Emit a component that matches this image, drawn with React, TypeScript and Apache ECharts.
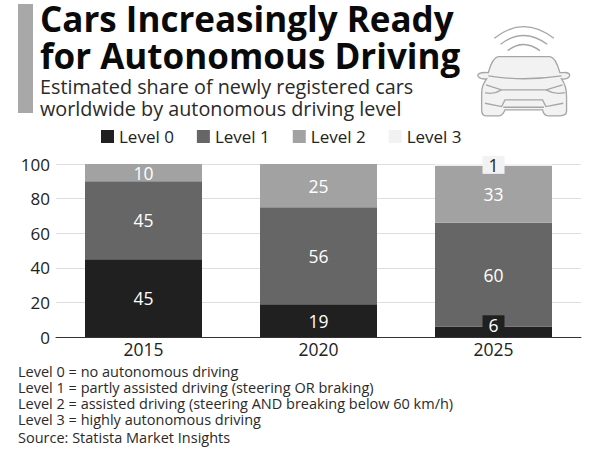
import React, { useEffect, useRef } from "react";
import * as echarts from "echarts";

const years = ["2015", "2020", "2025"];
const level0 = [45, 19, 6];
const level1 = [45, 56, 60];
const level2 = [10, 25, 33];
const level3 = [null, null, 1];
const titleText = "Cars Increasingly Ready\nfor Autonomous Driving";
const subtitleText = "Estimated share of newly registered cars\nworldwide by autonomous driving level";
const notes = [
  "Level 0 = no autonomous driving",
  "Level 1 = partly assisted driving (steering OR braking)",
  "Level 2 = assisted driving (steering AND breaking below 60 km/h)",
  "Level 3 = highly autonomous driving",
];
const sourceText = "Source: Statista Market Insights";
const FONT = "'Open Sans', sans-serif";

echarts.graphic.registerShape(
  "carBody",
  echarts.graphic.extendPath(
    "M115 140 L270 140 C285 142 295 170 300 188 L310 188 C325 186 332 192 328 200 C322 208 312 208 305 207 C318 225 320 240 320 260 L320 305 C320 315 310 318 295 318 L265 318 C255 318 250 310 248 300 L135 300 C130 312 125 318 115 318 L80 318 C68 318 65 310 65 300 L65 250 C65 235 70 220 80 207 C70 208 60 206 55 200 C50 192 60 186 85 188 C90 170 100 142 115 140 Z",
    {}
  )
);
echarts.graphic.registerShape(
  "carLines",
  echarts.graphic.extendPath(
    "M85 198 Q190 215 305 198 M78 225 L125 240 Q100 255 75 248 M308 225 L258 240 Q285 255 315 248 M125 240 L258 240 M75 280 L125 290 L135 270 L248 270 L258 290 L310 280 M130 292 L252 292 M103 85 Q190 15 282 85 M122 103 Q190 50 262 103 M143 122 Q190 85 240 122",
    {}
  )
);

export default function App() {
  const ref = useRef<HTMLDivElement>(null);
  useEffect(() => {
    const chart = echarts.init(ref.current!, null, { renderer: "svg" });
    const inner = { show: true, position: "inside", color: "#fff", fontSize: 17.5, fontFamily: FONT };
    const car = { x: 460, y: 10, scaleX: 1 / 3, scaleY: 1 / 3 };
    chart.setOption({
      animation: false,
      backgroundColor: "#fff",
      title: {
        text: titleText,
        subtext: subtitleText,
        left: 40,
        top: 0,
        padding: 0,
        itemGap: 1,
        textStyle: { fontFamily: FONT, fontSize: 35, fontWeight: 700, lineHeight: 37, color: "#0a0a0a" },
        subtextStyle: { fontFamily: FONT, fontSize: 19.8, lineHeight: 22, color: "#2a2a2a" },
      },
      legend: {
        top: 123,
        left: 96,
        icon: "rect",
        itemWidth: 13,
        itemHeight: 13,
        itemGap: 23,
        textStyle: { fontFamily: FONT, fontSize: 17, color: "#222" },
      },
      grid: { left: 56, right: 19, top: 164, bottom: 113 },
      xAxis: {
        type: "category",
        data: years,
        axisTick: { show: false },
        axisLine: { lineStyle: { color: "#333" } },
        axisLabel: { fontFamily: FONT, fontSize: 17.5, color: "#222", margin: 3 },
      },
      yAxis: {
        type: "value",
        min: 0,
        max: 100,
        interval: 20,
        axisLabel: { fontFamily: FONT, fontSize: 17, color: "#222", margin: 6 },
        splitLine: { lineStyle: { color: "#dedede" } },
      },
      series: [
        {
          name: "Level 0",
          type: "bar",
          stack: "t",
          barWidth: 117,
          itemStyle: { color: "#202020" },
          label: inner,
          data: [
            level0[0],
            level0[1],
            {
              value: level0[2],
              label: { backgroundColor: "#202020", padding: [1, 6, 0, 6], offset: [0, -7] },
            },
          ],
        },
        { name: "Level 1", type: "bar", stack: "t", itemStyle: { color: "#666666" }, label: inner, data: level1 },
        { name: "Level 2", type: "bar", stack: "t", itemStyle: { color: "#a2a2a2" }, label: inner, data: level2 },
        {
          name: "Level 3",
          type: "bar",
          stack: "t",
          itemStyle: { color: "#f2f2f2" },
          label: { ...inner, color: "#222", backgroundColor: "#f2f2f2", padding: [0, 6, 0, 6], lineHeight: 18 },
          data: level3,
        },
      ],
      graphic: [
        { type: "rect", shape: { x: 18, y: 4, width: 15, height: 109 }, style: { fill: "#a8a8a8" } },
        { type: "carBody", ...car, style: { fill: "#f2f2f2", stroke: "#a6a6a6", lineWidth: 4 } },
        { type: "carLines", ...car, style: { fill: "none", stroke: "#a6a6a6", lineWidth: 4 } },
        {
          type: "text",
          x: 18,
          y: 363,
          style: { text: notes.join("\n"), fontFamily: FONT, fontSize: 14.5, lineHeight: 16, fill: "#2a2a2a" },
        },
        {
          type: "text",
          x: 18,
          y: 429,
          style: { text: sourceText, fontFamily: FONT, fontSize: 14.5, lineHeight: 16, fill: "#2a2a2a" },
        },
      ],
    });
    return () => chart.dispose();
  }, []);
  return <div ref={ref} style={{ position: "absolute", left: 0, top: 0, width: 600, height: 450 }} />;
}
